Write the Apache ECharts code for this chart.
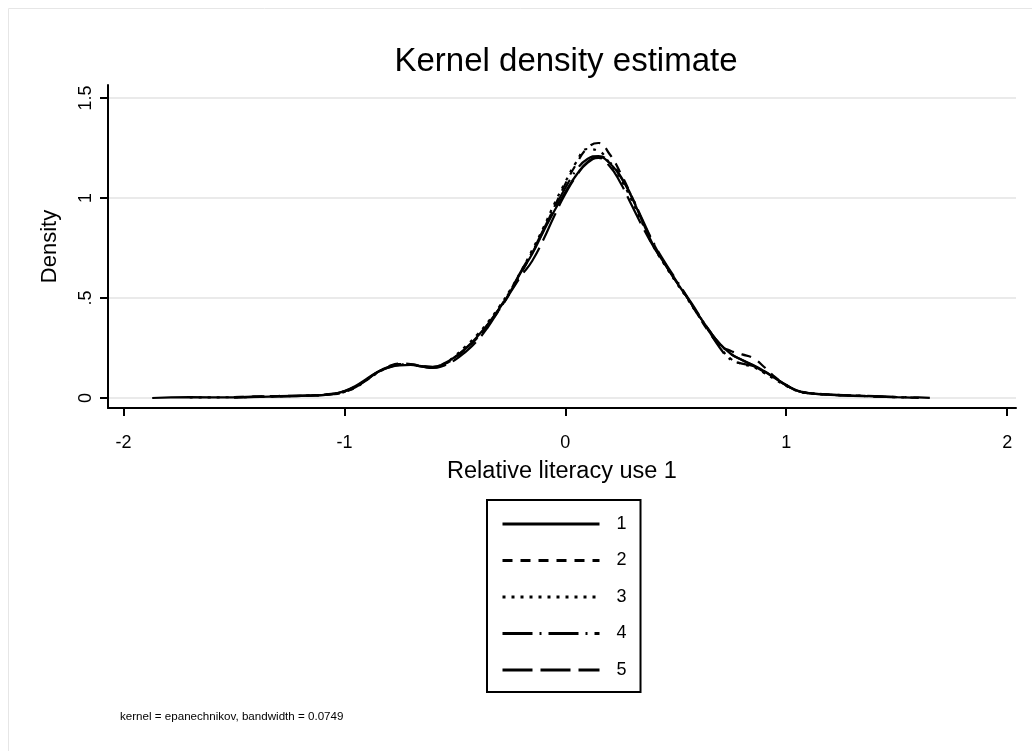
<!DOCTYPE html>
<html>
<head>
<meta charset="utf-8">
<script src="https://cdn.jsdelivr.net/npm/echarts@6/dist/echarts.min.js"></script>
<style>
  html, body { margin: 0; padding: 0; background: #fff; }
  #chart { width: 1032px; height: 751px; }
</style>
</head>
<body>
<div id="chart"></div>
<script>
// grid of x values (relative literacy use 1)
const xs = [-1.87, -1.7, -1.5, -1.3, -1.15, -1.05,
  -1.0, -0.95, -0.9, -0.85, -0.8, -0.75, -0.7, -0.65, -0.6, -0.55, -0.5, -0.45, -0.4, -0.35, -0.3,
  -0.25, -0.2, -0.15, -0.1, -0.05, 0, 0.05, 0.1, 0.15, 0.2, 0.25, 0.3, 0.35, 0.4, 0.45, 0.5,
  0.55, 0.6, 0.65, 0.7, 0.75, 0.8, 0.85, 0.9, 0.95, 1.0, 1.05, 1.1,
  1.2, 1.3, 1.4, 1.5, 1.6, 1.65];

const density1 = [0, 0.004, 0.003, 0.008, 0.012, 0.02,
  0.035, 0.06, 0.095, 0.13, 0.152, 0.163, 0.165, 0.158, 0.155, 0.172, 0.205, 0.25, 0.305, 0.37, 0.445,
  0.53, 0.63, 0.72, 0.83, 0.935, 1.03, 1.115, 1.18, 1.205, 1.175, 1.105, 1.005, 0.88, 0.76, 0.67, 0.585,
  0.505, 0.42, 0.34, 0.27, 0.22, 0.19, 0.165, 0.135, 0.1, 0.065, 0.037, 0.024,
  0.016, 0.012, 0.008, 0.004, 0.001, null];

const density2 = [null, null, 0.004, 0.01, 0.013, 0.022,
  0.033, 0.055, 0.09, 0.128, 0.158, 0.172, 0.17, 0.16, 0.152, 0.168, 0.2, 0.245, 0.3, 0.365, 0.44,
  0.525, 0.625, 0.725, 0.835, 0.955, 1.07, 1.17, 1.25, 1.275, 1.22, 1.125, 1.01, 0.885, 0.77, 0.675, 0.59,
  0.505, 0.415, 0.33, 0.265, 0.235, 0.218, 0.2, 0.155, 0.105, 0.065, 0.038, 0.026,
  0.018, 0.013, 0.009, 0.005, null, null];

const density3 = [null, 0.003, 0.004, 0.009, 0.012, 0.02,
  0.03, 0.052, 0.088, 0.125, 0.155, 0.17, 0.168, 0.158, 0.153, 0.17, 0.21, 0.26, 0.315, 0.38, 0.455,
  0.54, 0.635, 0.74, 0.85, 0.97, 1.08, 1.18, 1.245, 1.235, 1.175, 1.095, 0.99, 0.87, 0.755, 0.665, 0.58,
  0.5, 0.415, 0.335, 0.255, 0.195, 0.17, 0.155, 0.125, 0.092, 0.06, 0.035, 0.024,
  0.016, 0.012, 0.008, 0.004, 0.002, null];

const density4 = [null, null, 0.003, 0.009, 0.013, 0.021,
  0.034, 0.058, 0.092, 0.13, 0.156, 0.168, 0.167, 0.16, 0.156, 0.17, 0.203, 0.248, 0.3, 0.368, 0.447,
  0.535, 0.635, 0.73, 0.84, 0.95, 1.05, 1.14, 1.195, 1.21, 1.18, 1.11, 1.01, 0.89, 0.775, 0.68, 0.595,
  0.51, 0.425, 0.335, 0.25, 0.19, 0.172, 0.16, 0.13, 0.097, 0.063, 0.036, 0.025,
  0.017, 0.013, 0.009, 0.005, 0.003, 0.001];

const density5 = [null, null, 0.004, 0.008, 0.012, 0.019,
  0.03, 0.053, 0.09, 0.127, 0.153, 0.165, 0.165, 0.157, 0.15, 0.162, 0.19, 0.232, 0.285, 0.355, 0.44,
  0.525, 0.61, 0.685, 0.79, 0.91, 1.02, 1.11, 1.175, 1.2, 1.16, 1.075, 0.965, 0.855, 0.755, 0.67, 0.585,
  0.505, 0.42, 0.34, 0.27, 0.22, 0.19, 0.163, 0.133, 0.098, 0.064, 0.036, 0.024,
  0.016, 0.011, 0.007, 0.004, null, null];

const seriesNames = ['1', '2', '3', '4', '5'];
const xTicks = [-2, -1, 0, 1, 2];
const yTicks = [0, 0.5, 1, 1.5];

const font = '"Liberation Sans", Arial, sans-serif';
const dashes = ['solid', [10, 8], [3, 6], [30, 7, 2, 7], [30, 8]];
const allDensities = [density1, density2, density3, density4, density5];

const chart = echarts.init(document.getElementById('chart'));

const option = {
    backgroundColor: '#fff',
    animation: false,
    textStyle: { fontFamily: font, color: '#000' },
    graphic: [
        {
            type: 'rect',
            shape: { x: 8.5, y: 8.5, width: 1100, height: 800 },
            style: { fill: 'none', stroke: '#e6e6e6', lineWidth: 1 },
            silent: true,
        },
        {
            type: 'text',
            x: 566,
            y: 62,
            style: {
                text: 'Kernel density estimate',
                fontSize: 33,
                fill: '#000',
                fontFamily: font,
                align: 'center',
                verticalAlign: 'middle',
            },
        },
        {
            type: 'text',
            left: 120,
            top: 711,
            style: { text: 'kernel = epanechnikov, bandwidth = 0.0749', fontSize: 11.6, fill: '#000', fontFamily: font },
        },
    ],
    legend: {
        orient: 'vertical',
        left: 487,
        top: 500,
        padding: [15, 14, 13, 14],
        itemWidth: 97,
        itemHeight: 20,
        itemGap: 18.5,
        borderColor: '#000',
        borderWidth: 2,
        borderRadius: 0,
        itemStyle: { opacity: 0, borderWidth: 0 },
        lineStyle: { width: 3, opacity: 1 },
        textStyle: { fontSize: 18, color: '#000', fontFamily: font, padding: [0, 0, 0, 12] },
        data: seriesNames,
    },
    grid: {
        left: 108,
        right: 16,
        top: 85,
        bottom: 343,
    },
    xAxis: {
        type: 'value',
        min: -2.07,
        max: 2.04,
        name: 'Relative literacy use 1',
        nameLocation: 'middle',
        nameGap: 52,
        nameTextStyle: { fontSize: 23.5, color: '#000', fontFamily: font },
        axisLine: { onZero: false, lineStyle: { color: '#000', width: 2 } },
        axisTick: { show: true, length: 8, lineStyle: { color: '#000', width: 2 }, customValues: xTicks },
        axisLabel: { fontSize: 18, color: '#000', margin: 26, customValues: xTicks, formatter: (v) => String(v) },
        splitLine: { show: false },
    },
    yAxis: {
        type: 'value',
        min: -0.05,
        max: 1.565,
        name: 'Density',
        nameLocation: 'middle',
        nameGap: 47,
        nameTextStyle: { fontSize: 22, color: '#000', fontFamily: font },
        axisLine: { onZero: false, lineStyle: { color: '#000', width: 2 } },
        axisTick: { show: true, length: 8, lineStyle: { color: '#000', width: 2 }, customValues: yTicks },
        axisLabel: {
            fontSize: 18,
            color: '#000',
            rotate: 90,
            margin: 13,
            customValues: yTicks,
            formatter: (v) => (v === 0 ? '0' : String(v).replace(/^0\./, '.')),
        },
        splitLine: { show: true, lineStyle: { color: '#eaeaea', width: 2 } },
    },
    series: seriesNames.map((name, k) => ({
        name: name,
        type: 'line',
        smooth: true,
        symbol: 'none',
        data: xs.map((x, i) => [x, allDensities[k][i]]),
        lineStyle: { color: '#000', width: 2.2, type: dashes[k] },
        itemStyle: { color: '#000' },
    })),
};

chart.setOption(option);
</script>
</body>
</html>
